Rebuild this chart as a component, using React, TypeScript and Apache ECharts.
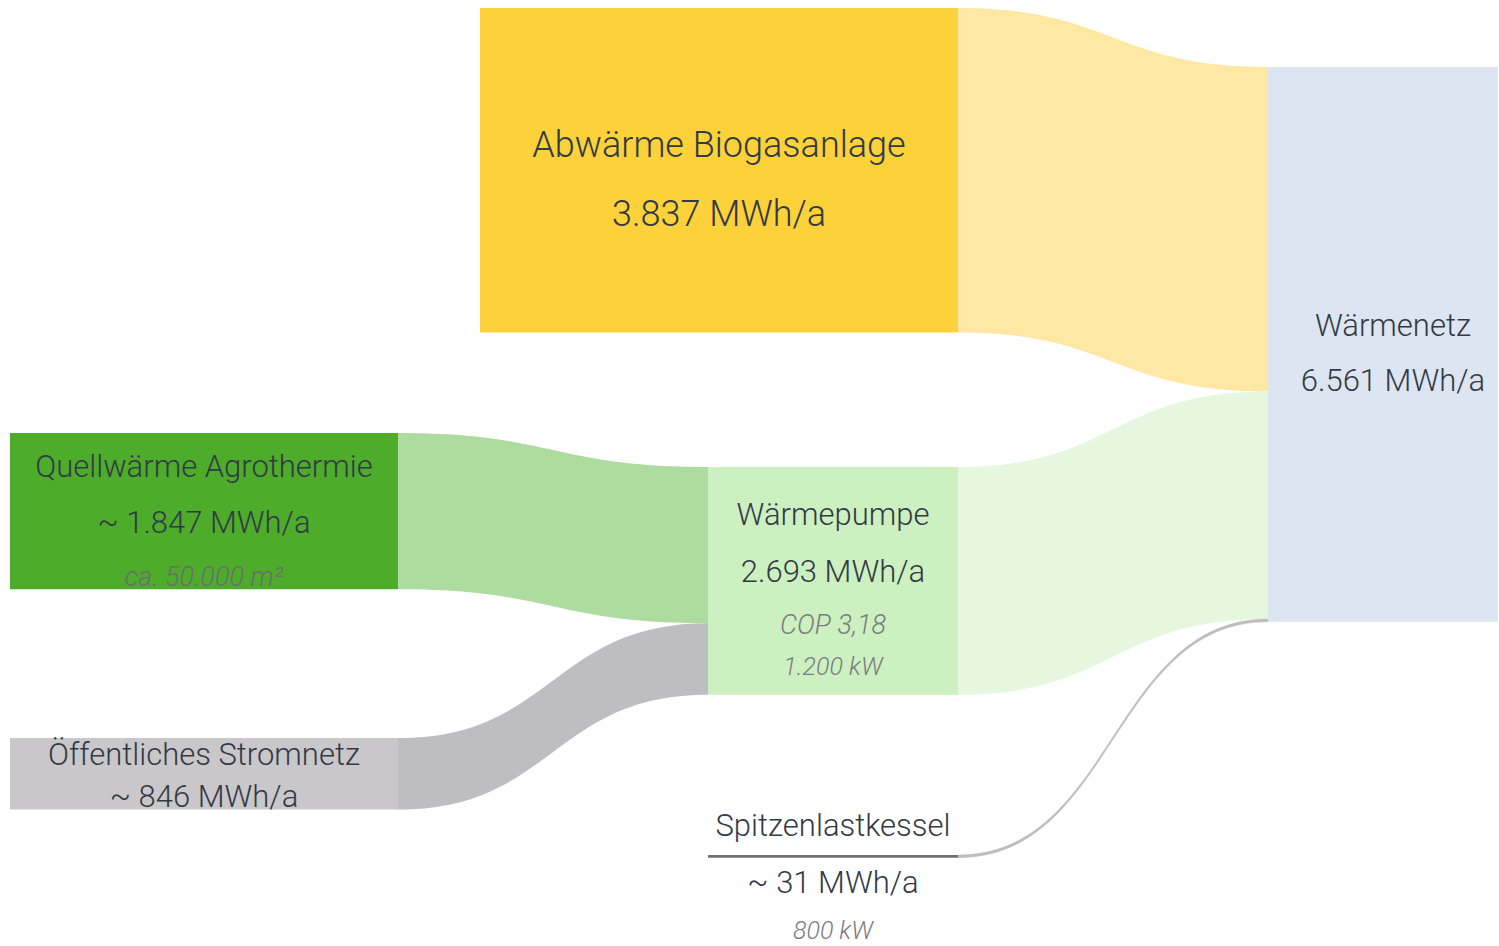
import React, { useEffect, useRef } from 'react';
import * as echarts from 'echarts';

// ---- data ----
const nodeNames = ['Abwärme Biogasanlage', 'Quellwärme Agrothermie', 'Öffentliches Stromnetz', 'Wärmepumpe', 'Spitzenlastkessel', 'Wärmenetz'];
const nodeValues = [3837, 1847, 846, 2693, 31, 6561];
const nodeValueLabels = ['3.837 MWh/a', '~ 1.847 MWh/a', '~ 846 MWh/a', '2.693 MWh/a', '~ 31 MWh/a', '6.561 MWh/a'];
const nodeNotes: string[][] = [[], ['ca. 50.000 m²'], [], ['COP 3,18', '1.200 kW'], ['800 kW'], []];
const linkSources = [0, 1, 2, 3, 4];
const linkTargets = [5, 3, 3, 5, 5];
const linkValues = [3837, 1847, 846, 2693, 31];

// ---- layout & style ----
const Y_SPAN = 11190; // MWh shown over the full chart height
const nodeX0 = [480, 10, 10, 708, 708, 1268];
const nodeX1 = [958, 398, 398, 958, 958, 1498];
const nodeTop = [95, 5122, 8730, 5524, 10114, 793]; // MWh units along the axis
const nodeColors = ['#FDD13A', '#4DAC2A', '#C9C7CA', '#CCF0C0', '#6E7076', '#DDE5F2'];
const linkColors = ['#FFE8A3', '#AEDBA0', '#BEBDC2', '#E5F7DF', '#BDBDBD'];
const labelSpec = [
  { sizes: [36, 36], lh: [69, 69], dy: 9, dx: 0, note: '#7b7b80' },
  { sizes: [31, 31, 27], lh: [56, 56, 53], dy: 10, dx: 0, note: '#6a6d70' },
  { sizes: [31, 31], lh: [42, 42], dy: 1.5, dx: 0, note: '#7b7b80' },
  { sizes: [31, 31, 27, 25], lh: [57, 57, 50, 34], dy: 4, dx: 0, note: '#7b7b80' },
  { sizes: [31, 31, 25], lh: [57, 57, 39], dy: 17.5, dx: 0, note: '#7b7b80' },
  { sizes: [31, 31], lh: [55, 55], dy: 8.5, dx: 10, note: '#7b7b80' },
];
const TEXT = '#323a45';
const FONT = 'Roboto, "Noto Sans", sans-serif';

// link stacking offsets (computed from data order)
const srcOffset: number[] = [];
const tgtOffset: number[] = [];
(() => {
  const outAcc = nodeValues.map(() => 0);
  const inAcc = nodeValues.map(() => 0);
  linkValues.forEach((v, i) => {
    const s = linkSources[i];
    const t = linkTargets[i];
    srcOffset[i] = outAcc[s];
    outAcc[s] += v;
    tgtOffset[i] = inAcc[t];
    inAcc[t] += v;
  });
})();

function buildLabel(i: number) {
  const spec = labelSpec[i];
  const lines = [nodeNames[i], nodeValueLabels[i], ...nodeNotes[i]];
  const rich: Record<string, any> = {};
  const parts = lines.map((line, k) => {
    const note = k >= 2;
    rich['l' + k] = {
      fontSize: spec.sizes[k],
      lineHeight: spec.lh[k],
      fontFamily: FONT,
      fontWeight: 300,
      fontStyle: note ? 'italic' : 'normal',
      fill: note ? spec.note : TEXT,
      color: note ? spec.note : TEXT,
    };
    return '{l' + k + '|' + line + '}';
  });
  return { text: parts.join('\n'), rich };
}

export default function App() {
  const ref = useRef<HTMLDivElement>(null);
  useEffect(() => {
    document.body.style.margin = '0';
    const chart = echarts.init(ref.current!, undefined, { renderer: 'svg' });
    chart.setOption({
      animation: false,
      backgroundColor: '#ffffff',
      grid: { left: 0, right: 0, top: 0, bottom: 0 },
      xAxis: { type: 'value', min: 0, max: 1499, show: false },
      yAxis: { type: 'value', min: 0, max: Y_SPAN, inverse: true, show: false },
      series: [
        {
          type: 'custom',
          name: 'links',
          clip: false,
          silent: true,
          data: linkValues.map((v, i) => [i, v]),
          renderItem: (params: any, api: any) => {
            const i = params.dataIndex;
            const s = linkSources[i];
            const t = linkTargets[i];
            const v = linkValues[i];
            const sx = api.coord([nodeX1[s], 0])[0];
            const tx = api.coord([nodeX0[t], 0])[0];
            const sy0 = api.coord([0, nodeTop[s] + srcOffset[i]])[1];
            const sy1 = api.coord([0, nodeTop[s] + srcOffset[i] + v])[1];
            const ty0 = api.coord([0, nodeTop[t] + tgtOffset[i]])[1];
            const ty1 = api.coord([0, nodeTop[t] + tgtOffset[i] + v])[1];
            const cx = (sx + tx) / 2;
            const d = `M${sx} ${sy0}C${cx} ${sy0} ${cx} ${ty0} ${tx} ${ty0}L${tx} ${ty1}C${cx} ${ty1} ${cx} ${sy1} ${sx} ${sy1}Z`;
            return {
              type: 'path',
              shape: { pathData: d },
              style: { fill: linkColors[i], stroke: i === 4 ? linkColors[i] : 'none', lineWidth: i === 4 ? 0.5 : 0 },
            };
          },
        },
        {
          type: 'custom',
          name: 'nodes',
          clip: false,
          silent: true,
          data: nodeValues.map((v, i) => [i, v]),
          renderItem: (params: any, api: any) => {
            const i = params.dataIndex;
            const x0 = api.coord([nodeX0[i], 0])[0];
            const x1 = api.coord([nodeX1[i], 0])[0];
            const y0 = api.coord([0, nodeTop[i]])[1];
            const y1 = api.coord([0, nodeTop[i] + nodeValues[i]])[1];
            const lbl = buildLabel(i);
            return {
              type: 'group',
              children: [
                { type: 'rect', shape: { x: x0, y: y0, width: x1 - x0, height: y1 - y0 }, style: { fill: nodeColors[i] } },
                {
                  type: 'text',
                  x: (x0 + x1) / 2 + labelSpec[i].dx,
                  y: (y0 + y1) / 2 + labelSpec[i].dy,
                  style: {
                    text: lbl.text,
                    rich: lbl.rich,
                    align: 'center',
                    verticalAlign: 'middle',
                    fill: TEXT,
                    fontFamily: FONT,
                    fontWeight: 300,
                  },
                },
              ],
            };
          },
        },
      ],
    });
    return () => chart.dispose();
  }, []);
  return <div ref={ref} style={{ position: 'fixed', left: 0, top: 0, width: 1499, height: 946 }} />;
}
